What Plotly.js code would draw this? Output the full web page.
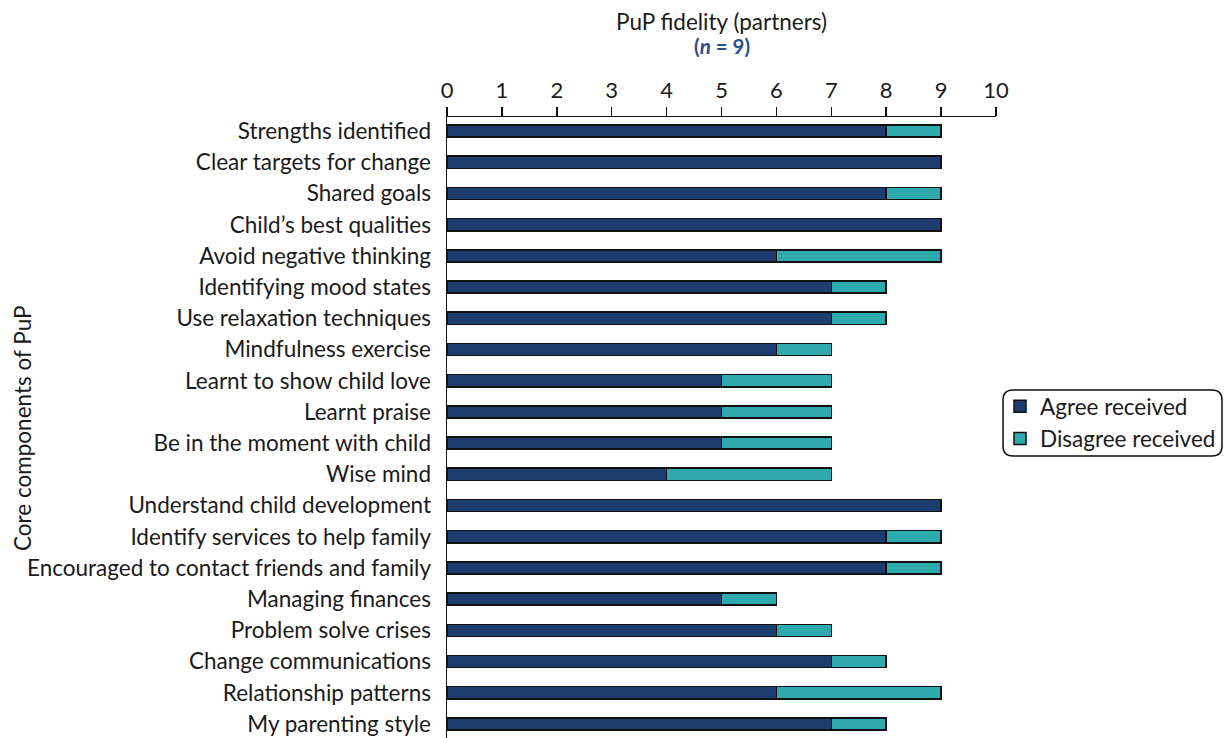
<!DOCTYPE html>
<html><head><meta charset="utf-8">
<script src="https://cdn.plot.ly/plotly-3.0.1.min.js"></script>
<style>html,body{margin:0;padding:0;background:#fff}#chart{width:1227px;height:738px}</style>
</head><body><div id="chart"></div>
<script>
const categories = [
  "Strengths identified","Clear targets for change","Shared goals","Child’s best qualities",
  "Avoid negative thinking","Identifying mood states","Use relaxation techniques","Mindfulness exercise",
  "Learnt to show child love","Learnt praise","Be in the moment with child","Wise mind",
  "Understand child development","Identify services to help family","Encouraged to contact friends and family",
  "Managing finances","Problem solve crises","Change communications","Relationship patterns","My parenting style"
];
const agreeReceived    = [8,9,8,9,6,7,7,6,5,5,5,4,9,8,8,5,6,7,6,7];
const disagreeReceived = [1,0,1,0,3,1,1,1,2,2,2,3,0,1,1,1,1,1,3,1];
const xTicks = [0,1,2,3,4,5,6,7,8,9,10];

const W=1227,H=738, L=447, R=996, T=117, B=738;
const pw=R-L, ph=B-T;
const px=x=>(x-L)/pw, py=y=>(B-y)/ph;

const font = {family:"Lato, 'Open Sans', sans-serif", size:22.5, color:"#1a1a1a"};
const traces = [
  {type:"bar", orientation:"h", name:"Agree received", y:categories, x:agreeReceived,
   marker:{color:"#1c3d6e", line:{color:"#111", width:1.5}}},
  {type:"bar", orientation:"h", name:"Disagree received", y:categories, x:disagreeReceived,
   marker:{color:"#2eaaae", line:{color:"#111", width:1.5}}}
];

// rounded legend border
const bx0=1003,bx1=1222,by0=390,by1=456,r=10;
const path = `M ${px(bx0+r)} ${py(by0)} L ${px(bx1-r)} ${py(by0)} Q ${px(bx1)} ${py(by0)} ${px(bx1)} ${py(by0+r)} `+
  `L ${px(bx1)} ${py(by1-r)} Q ${px(bx1)} ${py(by1)} ${px(bx1-r)} ${py(by1)} `+
  `L ${px(bx0+r)} ${py(by1)} Q ${px(bx0)} ${py(by1)} ${px(bx0)} ${py(by1-r)} `+
  `L ${px(bx0)} ${py(by0+r)} Q ${px(bx0)} ${py(by0)} ${px(bx0+r)} ${py(by0)} Z`;

const layout = {
  width:W, height:H, barmode:"stack", bargap:0.61,
  margin:{l:L, r:W-R, t:T, b:0, pad:0},
  paper_bgcolor:"#fff", plot_bgcolor:"#fff", font:font, showlegend:true,
  xaxis:{side:"top", range:[0,10], tickvals:xTicks, ticktext:xTicks.map(String),
    showline:true, linecolor:"#111", linewidth:1.5, ticks:"outside", ticklen:9, tickwidth:1.5,
    tickcolor:"#111", showgrid:false, zeroline:false, tickfont:{size:22}, automargin:false},
  yaxis:{type:"category", range:[19.45,-0.45], showline:true, linecolor:"#111", linewidth:1.5,
    ticks:"", showgrid:false, zeroline:false, ticklabelstandoff:10, tickfont:{size:22.5}, automargin:false},
  legend:{x:px(1000), y:py(385), xanchor:"left", yanchor:"top", bgcolor:"rgba(0,0,0,0)", traceorder:"normal",
    borderwidth:0, font:{size:22.5}, tracegroupgap:0, itemwidth:30},
  shapes:[{type:"path", xref:"paper", yref:"paper", path:path, line:{color:"#111", width:1.5}, fillcolor:"rgba(0,0,0,0)"}],
  annotations:[
    {text:"PuP fidelity (partners)", xref:"paper", yref:"paper", x:0.5, y:py(22), xanchor:"center", yanchor:"middle",
     showarrow:false, font:{size:22.5}},
    {text:"<b>(<i>n</i> = 9)</b>", xref:"paper", yref:"paper", x:0.5, y:py(46), xanchor:"center", yanchor:"middle",
     showarrow:false, font:{size:20.5, color:"#2b4e8c"}},
    {text:"Core components of PuP", xref:"paper", yref:"paper", x:px(22), y:py(428), xanchor:"center", yanchor:"middle",
     textangle:-90, showarrow:false, font:{size:22.5}}
  ]
};
Plotly.newPlot("chart", traces, layout, {staticPlot:true, displayModeBar:false});
</script></body></html>
